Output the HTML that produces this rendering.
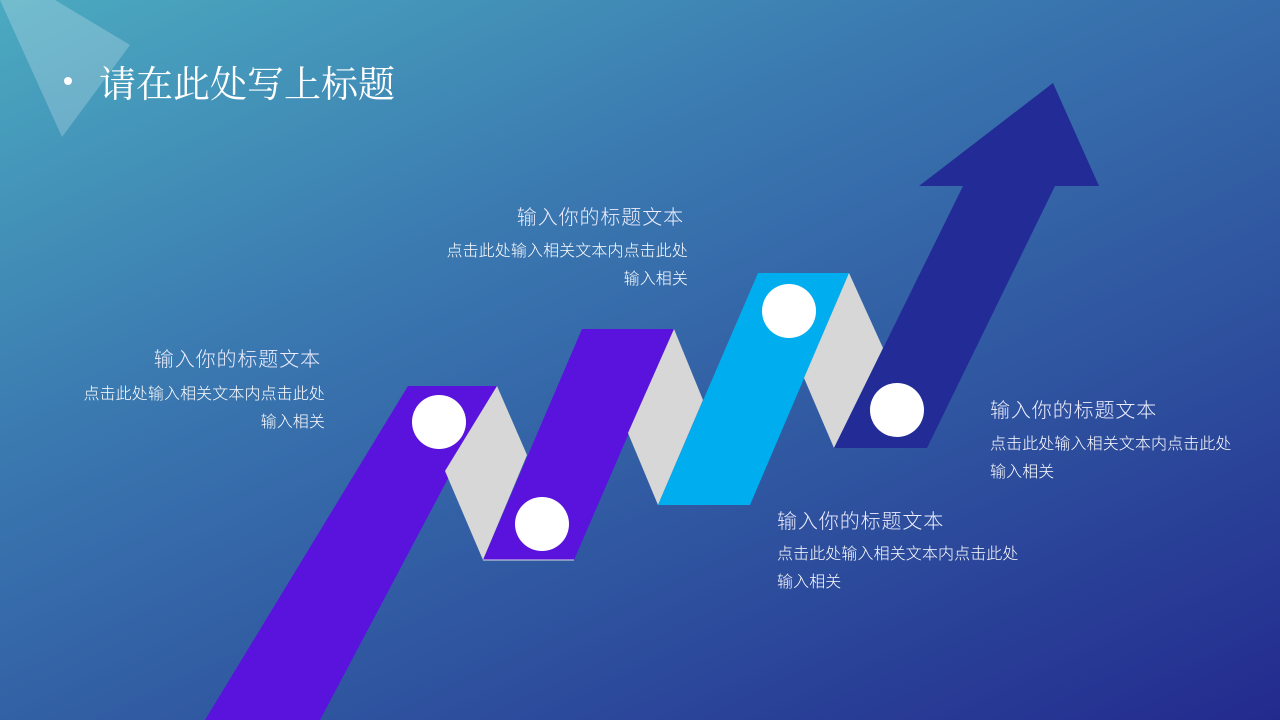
<!DOCTYPE html>
<html><head><meta charset="utf-8"><style>
html,body{margin:0;padding:0}
body{width:1280px;height:720px;overflow:hidden;position:relative;background:linear-gradient(155deg,#4baac0 0%,#3a78b0 35%,#2f55a0 65%,#232a8e 100%);font-family:"Liberation Sans","Noto Sans CJK SC",sans-serif;color:#fff}
svg{position:absolute;left:0;top:0}
.t{position:absolute;white-space:nowrap}
.h{font-size:20px;letter-spacing:0.9px;color:#eef;font-weight:300}
.p{font-size:16px;line-height:28px;letter-spacing:0.1px;font-weight:300}
</style></head><body>
<svg width="1280" height="720">
<polygon points="0,0 55,0 130,45 62,137" fill="#ffffff" opacity="0.22"/>
<polygon points="408,386 497,386 320,720 205,720" fill="#5913dc"/>
<polygon points="497,386 527,455 483,560 445,471" fill="#d7d7d7"/>
<polygon points="582,329 674,329 574,560 483,560" fill="#5913dc"/>
<line x1="483" y1="560" x2="574" y2="560" stroke="#ddd" stroke-width="1"/>
<polygon points="674,329 703,400 658,505 628,433" fill="#d7d7d7"/>
<polygon points="758,273 849,273 750,505 658,505" fill="#00aeef"/>
<polygon points="849,273 883,348 834,448 804,378" fill="#d7d7d7"/>
<polygon points="834,448 927,448 1055,186 1099,186 1053,83 919,186 963,186" fill="#232b96"/>
<circle cx="439" cy="422" r="27" fill="#fff"/>
<circle cx="542" cy="524" r="27" fill="#fff"/>
<circle cx="789" cy="311" r="27" fill="#fff"/>
<circle cx="897" cy="410" r="27" fill="#fff"/>
<circle cx="68" cy="81" r="4" fill="#fff"/>
</svg>
<div class="t" style="left:99px;top:54px;font-size:37px;font-family:'Liberation Serif','Noto Serif CJK SC',serif">请在此处写上标题</div>

<div class="t h" style="right:959px;top:343px">输入你的标题文本</div>
<div class="t p" style="right:955px;top:381px;text-align:right">点击此处输入相关文本内点击此处<br>输入相关</div>

<div class="t h" style="right:596px;top:201px">输入你的标题文本</div>
<div class="t p" style="right:592px;top:238px;text-align:right">点击此处输入相关文本内点击此处<br>输入相关</div>

<div class="t h" style="left:777px;top:505px">输入你的标题文本</div>
<div class="t p" style="left:777px;top:541px">点击此处输入相关文本内点击此处<br>输入相关</div>

<div class="t h" style="left:990px;top:394px">输入你的标题文本</div>
<div class="t p" style="left:990px;top:431px">点击此处输入相关文本内点击此处<br>输入相关</div>
</body></html>
